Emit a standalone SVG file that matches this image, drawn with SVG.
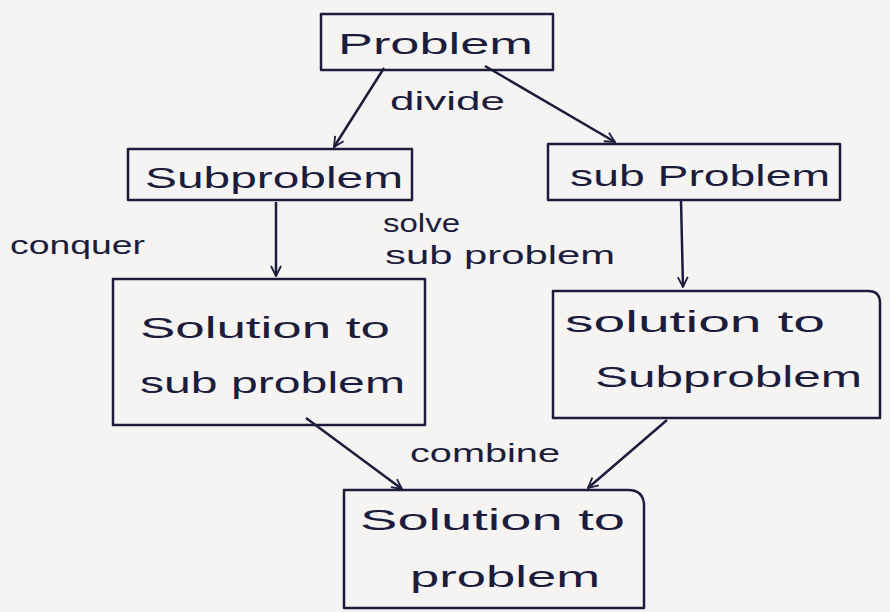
<svg xmlns="http://www.w3.org/2000/svg" width="890" height="612" viewBox="0 0 890 612">
<style>
.box{fill:none;stroke:#1c1d3c;stroke-width:2.5;stroke-linejoin:round}
.t{font-family:"Liberation Sans",Arial,sans-serif;fill:#1c1d3c;font-size:30px}
.lbl{font-family:"Liberation Sans",Arial,sans-serif;fill:#1c1d3c;font-size:26px}
.c{fill:none;stroke:#1c1d3c;stroke-width:2.5;marker-end:url(#ah)}
</style>
<defs>
<marker id="ah" viewBox="0 0 12 12" refX="11" refY="6" markerWidth="12" markerHeight="12" orient="auto" markerUnits="userSpaceOnUse">
<path d="M1,1 L11,6 L1,11" fill="none" stroke="#1c1d3c" stroke-width="1.8"/>
</marker>
</defs>
<rect width="890" height="612" fill="#f5f4f2"/>
<g id="n-problem">
<rect class="box" x="321" y="14" width="232" height="56"/>
<text class="t" x="338" y="54" textLength="195" lengthAdjust="spacingAndGlyphs">Problem</text>
</g>
<g id="n-sub-left">
<rect class="box" x="128" y="149" width="284" height="51"/>
<text class="t" x="145" y="188" textLength="258" lengthAdjust="spacingAndGlyphs">Subproblem</text>
</g>
<g id="n-sub-right">
<rect class="box" x="548" y="144" width="292" height="56"/>
<text class="t" x="570" y="186" textLength="260" lengthAdjust="spacingAndGlyphs">sub Problem</text>
</g>
<g id="n-sol-left">
<rect class="box" x="113" y="279" width="312" height="146"/>
<text class="t" x="140" y="338" textLength="250" lengthAdjust="spacingAndGlyphs">Solution to</text>
<text class="t" x="140" y="393" textLength="265" lengthAdjust="spacingAndGlyphs">sub problem</text>
</g>
<g id="n-sol-right">
<path class="box" d="M553,291 L868,291 Q880,291 880,303 L880,418 L553,418 Z"/>
<text class="t" x="565" y="332" textLength="260" lengthAdjust="spacingAndGlyphs">solution to</text>
<text class="t" x="595" y="387" textLength="267" lengthAdjust="spacingAndGlyphs">Subproblem</text>
</g>
<g id="n-sol-final">
<path class="box" d="M344,490 L628,490 Q644,490 644,506 L644,608 L344,608 Z"/>
<text class="t" x="360" y="530" textLength="265" lengthAdjust="spacingAndGlyphs">Solution to</text>
<text class="t" x="410" y="587" textLength="190" lengthAdjust="spacingAndGlyphs">problem</text>
</g>
<g id="connectors">
<path class="c" d="M384,68 L334,147"/>
<path class="c" d="M485,66 L615,142"/>
<path class="c" d="M276,202 L276,276"/>
<path class="c" d="M681,200 L683,287"/>
<path class="c" d="M306,418 L402,489"/>
<path class="c" d="M667,420 L588,488"/>
</g>
<g id="labels">
<text class="lbl" x="390" y="110" textLength="115" lengthAdjust="spacingAndGlyphs">divide</text>
<text class="lbl" x="10" y="254" textLength="135" lengthAdjust="spacingAndGlyphs">conquer</text>
<text class="lbl" x="383" y="232" textLength="77" lengthAdjust="spacingAndGlyphs">solve</text>
<text class="lbl" x="385" y="264" textLength="230" lengthAdjust="spacingAndGlyphs">sub problem</text>
<text class="lbl" x="410" y="462" textLength="150" lengthAdjust="spacingAndGlyphs">combine</text>
</g>
</svg>
